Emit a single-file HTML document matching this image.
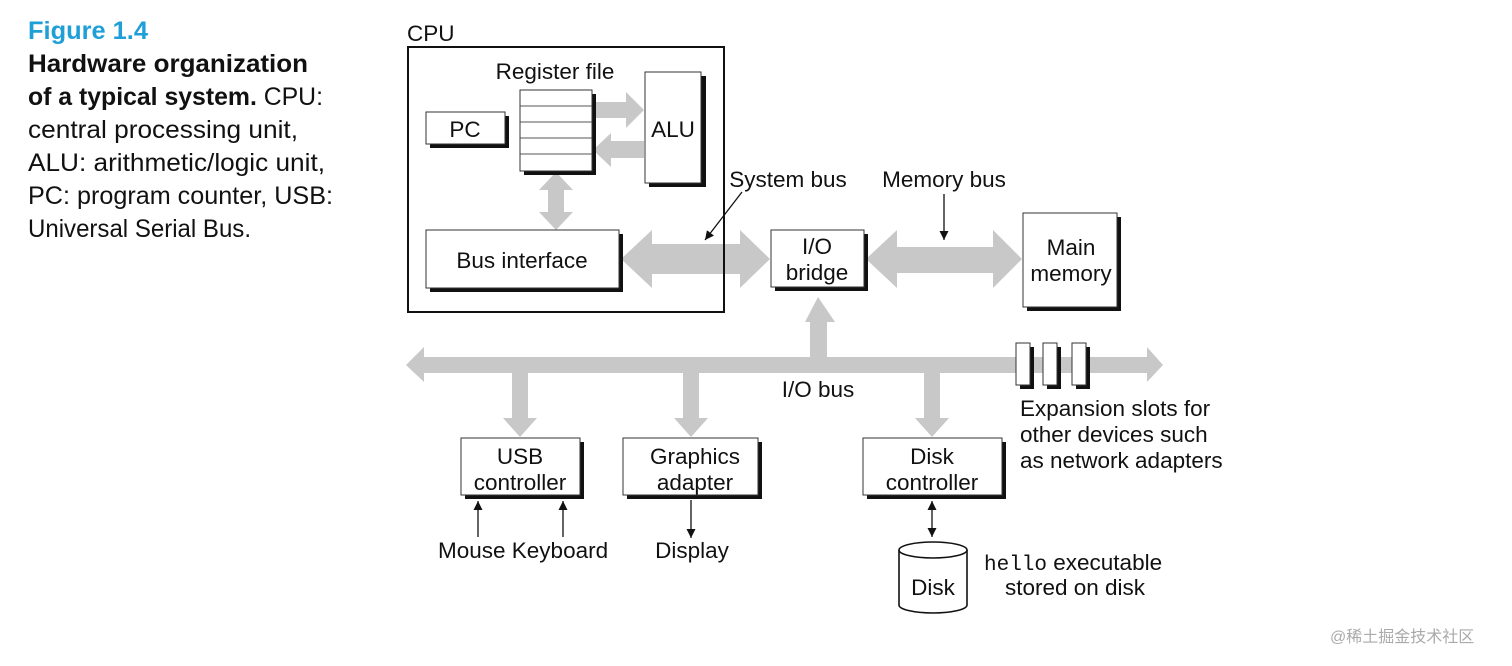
<!DOCTYPE html>
<html><head><meta charset="utf-8"><style>
html,body{margin:0;padding:0;background:#fff;width:1512px;height:666px;overflow:hidden}
svg{display:block}
text{font-family:"Liberation Sans",sans-serif;fill:#111}
</style></head><body>
<svg width="1512" height="666" viewBox="0 0 1512 666" xmlns="http://www.w3.org/2000/svg">
<defs>
<marker id="ah" viewBox="0 0 10 10" refX="10" refY="5" markerWidth="9" markerHeight="9" markerUnits="userSpaceOnUse" orient="auto"><path d="M0,0 L10,5 L0,10 z" fill="#111"/></marker>
<marker id="as" viewBox="0 0 10 10" refX="0" refY="5" markerWidth="9" markerHeight="9" markerUnits="userSpaceOnUse" orient="auto"><path d="M10,0 L0,5 L10,10 z" fill="#111"/></marker>
</defs>
<!-- sidebar -->
<g font-size="25">
<text x="28" y="39" style="fill:#1f9fd8;font-weight:bold" textLength="120" lengthAdjust="spacingAndGlyphs">Figure 1.4</text>
<text x="28" y="72" font-weight="bold" textLength="280" lengthAdjust="spacingAndGlyphs">Hardware organization</text>
<text x="28" y="105" textLength="295" lengthAdjust="spacingAndGlyphs"><tspan font-weight="bold">of a typical system.</tspan> CPU:</text>
<text x="28" y="138" textLength="270" lengthAdjust="spacingAndGlyphs">central processing unit,</text>
<text x="28" y="171" textLength="297" lengthAdjust="spacingAndGlyphs">ALU: arithmetic/logic unit,</text>
<text x="28" y="204" textLength="305" lengthAdjust="spacingAndGlyphs">PC: program counter, USB:</text>
<text x="28" y="237" textLength="223" lengthAdjust="spacingAndGlyphs">Universal Serial Bus.</text>
</g>
<g fill="#c8c8c8">
<polygon points="593,102 626,102 626,92 644,110 626,128 626,118 593,118"/>
<polygon points="644,141 611,141 611,133 593,150 611,167 611,158 644,158"/>
<polygon points="556,172 539,190 548,190 548,212 539,212 556,230 573,212 564,212 564,190 573,190"/>
<polygon points="621,259 652,230 652,244 740,244 740,230 770,259 740,288 740,274 652,274 652,288"/>
<polygon points="866,259 897,230 897,247 993,247 993,230 1022,259 993,288 993,273 897,273 897,288"/>
<polygon points="406,365 424,347 424,357 1147,357 1147,347 1163,365 1147,382 1147,373 424,373 424,382"/>
<polygon points="810,357 810,322 805,322 818,297 835,322 827,322 827,357"/>
<polygon points="512,373 512,418 503,418 520,437 537,418 528,418 528,373"/>
<polygon points="683,373 683,418 674,418 691,437 708,418 699,418 699,373"/>
<polygon points="924,373 924,418 915,418 932,437 949,418 940,418 940,373"/>
</g>
<g font-size="22.5">
<text x="407" y="41">CPU</text>
<rect x="408" y="47" width="316" height="265" fill="none" stroke="#111" stroke-width="2"/>
<text x="555" y="79" text-anchor="middle">Register file</text>
<rect x="524" y="94" width="72" height="81" fill="#111"/>
<rect x="520" y="90" width="72" height="81" fill="#fff" stroke="#333" stroke-width="1"/>
<g stroke="#555" stroke-width="1"><line x1="520" y1="106" x2="592" y2="106"/><line x1="520" y1="122" x2="592" y2="122"/><line x1="520" y1="138" x2="592" y2="138"/><line x1="520" y1="154" x2="592" y2="154"/></g>
<rect x="430" y="116" width="79" height="32" fill="#111"/>
<rect x="426" y="112" width="79" height="32" fill="#fff" stroke="#333"/>
<text x="465" y="137" text-anchor="middle">PC</text>
<rect x="649" y="76" width="57" height="111" fill="#111"/>
<rect x="645" y="72" width="56" height="111" fill="#fff" stroke="#333"/>
<text x="673" y="137" text-anchor="middle">ALU</text>
<rect x="430" y="234" width="193" height="58" fill="#111"/>
<rect x="426" y="230" width="193" height="58" fill="#fff" stroke="#333"/>
<text x="522" y="268" text-anchor="middle">Bus interface</text>
<rect x="775" y="234" width="93" height="57" fill="#111"/>
<rect x="771" y="230" width="93" height="57" fill="#fff" stroke="#333"/>
<text x="817" y="254" text-anchor="middle">I/O</text>
<text x="817" y="280" text-anchor="middle">bridge</text>
<rect x="1027" y="217" width="94" height="94" fill="#111"/>
<rect x="1023" y="213" width="94" height="94" fill="#fff" stroke="#333"/>
<text x="1071" y="255" text-anchor="middle">Main</text>
<text x="1071" y="281" text-anchor="middle">memory</text>
<text x="788" y="187" text-anchor="middle">System bus</text>
<line x1="742" y1="192" x2="705" y2="240" stroke="#111" stroke-width="1.3" marker-end="url(#ah)"/>
<text x="944" y="187" text-anchor="middle">Memory bus</text>
<line x1="944" y1="194" x2="944" y2="240" stroke="#111" stroke-width="1.3" marker-end="url(#ah)"/>
<text x="818" y="397" text-anchor="middle">I/O bus</text>
<rect x="1020" y="347" width="14" height="42" fill="#111"/><rect x="1016" y="343" width="14" height="42" fill="#fff" stroke="#333"/>
<rect x="1047" y="347" width="14" height="42" fill="#111"/><rect x="1043" y="343" width="14" height="42" fill="#fff" stroke="#333"/>
<rect x="1076" y="347" width="14" height="42" fill="#111"/><rect x="1072" y="343" width="14" height="42" fill="#fff" stroke="#333"/>
<text x="1020" y="416">Expansion slots for</text>
<text x="1020" y="442">other devices such</text>
<text x="1020" y="468">as network adapters</text>
<rect x="465" y="442" width="119" height="57" fill="#111"/>
<rect x="461" y="438" width="119" height="57" fill="#fff" stroke="#333"/>
<text x="520" y="464" text-anchor="middle">USB</text>
<text x="520" y="490" text-anchor="middle">controller</text>
<rect x="627" y="442" width="135" height="57" fill="#111"/>
<rect x="623" y="438" width="135" height="57" fill="#fff" stroke="#333"/>
<text x="695" y="464" text-anchor="middle">Graphics</text>
<text x="695" y="490" text-anchor="middle">adapter</text>
<rect x="867" y="442" width="139" height="57" fill="#111"/>
<rect x="863" y="438" width="139" height="57" fill="#fff" stroke="#333"/>
<text x="932" y="464" text-anchor="middle">Disk</text>
<text x="932" y="490" text-anchor="middle">controller</text>
<g stroke="#111" stroke-width="1.3">
<line x1="478" y1="537" x2="478" y2="501" marker-end="url(#ah)"/>
<line x1="563" y1="537" x2="563" y2="501" marker-end="url(#ah)"/>
<line x1="691" y1="500" x2="691" y2="538" marker-end="url(#ah)"/>
<line x1="932" y1="501" x2="932" y2="537" marker-end="url(#ah)" marker-start="url(#as)"/>
</g>
<text x="438" y="558">Mouse Keyboard</text>
<text x="692" y="558" text-anchor="middle">Display</text>
<path d="M899,550 L899,605 A34,8 0 0 0 967,605 L967,550" fill="#fff" stroke="#111" stroke-width="1.6"/>
<ellipse cx="933" cy="550" rx="34" ry="8" fill="#fff" stroke="#111" stroke-width="1.6"/>
<text x="933" y="595" text-anchor="middle">Disk</text>
<text x="984" y="570"><tspan font-family="Liberation Mono, monospace" font-size="21">hello</tspan> executable</text>
<text x="1075" y="595" text-anchor="middle">stored on disk</text>
</g>
<text x="1330" y="642" font-size="16" style="fill:#aaa;font-family:'Liberation Sans','Noto Sans CJK SC',sans-serif">@稀土掘金技术社区</text>
</svg>
</body></html>
